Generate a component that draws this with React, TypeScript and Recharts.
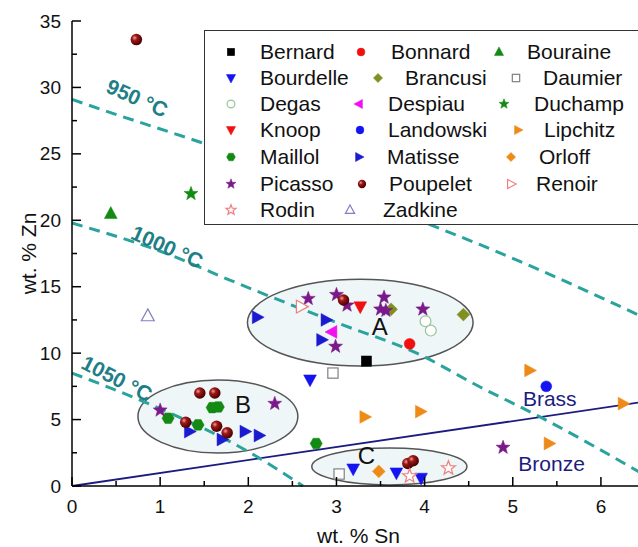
import React from 'react';
import { ComposedChart, Scatter, Line, XAxis, YAxis, ReferenceArea, ReferenceDot } from 'recharts';

// measured points, x = wt.% Sn, y = wt.% Zn
const bernard = [{ x: 3.34, y: 9.4 }];
const bonnard = [{ x: 3.83, y: 10.7 }];
const bouraine = [{ x: 0.44, y: 20.5 }];
const bourdelle = [{ x: 2.7, y: 8.0 }, { x: 3.19, y: 1.3 }, { x: 3.68, y: 1.0 }, { x: 3.96, y: 0.6 }];
const brancusi = [{ x: 3.62, y: 13.3 }, { x: 4.44, y: 12.9 }];
const daumier = [{ x: 2.96, y: 8.5 }, { x: 3.03, y: 0.9 }];
const degas = [{ x: 4.01, y: 12.4 }, { x: 4.07, y: 11.7 }];
const despiau = [{ x: 2.95, y: 11.6 }];
const duchamp = [{ x: 1.35, y: 22.0 }];
const knoop = [{ x: 3.27, y: 13.5 }];
const landowski = [{ x: 5.38, y: 7.5 }];
const lipchitz = [{ x: 3.32, y: 5.2 }, { x: 3.95, y: 5.6 }, { x: 5.19, y: 8.7 }, { x: 6.25, y: 6.2 }, { x: 5.41, y: 3.2 }];
const maillol = [{ x: 1.59, y: 5.9 }, { x: 1.66, y: 5.95 }, { x: 1.09, y: 5.1 }, { x: 1.43, y: 4.6 }, { x: 2.77, y: 3.2 }];
const matisse = [
  { x: 2.1, y: 12.7 }, { x: 2.88, y: 12.5 }, { x: 2.83, y: 11.0 },
  { x: 1.33, y: 4.1 }, { x: 1.7, y: 3.5 }, { x: 1.96, y: 4.1 }, { x: 2.12, y: 3.8 },
];
const orloff = [{ x: 3.48, y: 1.1 }];
const picasso = [
  { x: 2.68, y: 14.1 }, { x: 3.0, y: 14.4 }, { x: 3.12, y: 13.6 }, { x: 2.99, y: 10.5 },
  { x: 3.54, y: 14.2 }, { x: 3.5, y: 13.3 }, { x: 3.56, y: 13.2 }, { x: 3.98, y: 13.3 },
  { x: 1.0, y: 5.7 }, { x: 2.3, y: 6.2 }, { x: 4.89, y: 2.9 },
];
const poupelet = [
  { x: 0.73, y: 33.6 }, { x: 3.08, y: 14.0 },
  { x: 1.45, y: 7.0 }, { x: 1.62, y: 7.0 }, { x: 1.29, y: 4.8 }, { x: 1.64, y: 4.5 }, { x: 1.76, y: 4.0 },
  { x: 3.81, y: 1.7 }, { x: 3.87, y: 1.9 },
];
const renoir = [{ x: 2.6, y: 13.5 }];
const rodin = [{ x: 3.83, y: 0.75 }, { x: 4.27, y: 1.35 }];
const zadkine = [{ x: 0.86, y: 12.8 }];

// isotherms and brass/bronze divide
const iso950 = [{ x: 0, y: 29.1 }, { x: 0.35, y: 28.3 }, { x: 1.49, y: 25.8 }, { x: 5.31, y: 16.25 }, { x: 6.45, y: 12.8 }];
const iso1000 = [
  { x: 0, y: 19.8 }, { x: 1.11, y: 17.4 }, { x: 1.79, y: 15.5 }, { x: 2.5, y: 13.6 }, { x: 3.0, y: 12.3 },
  { x: 3.91, y: 10.0 }, { x: 4.63, y: 7.45 }, { x: 5.31, y: 5.2 }, { x: 6.45, y: 1.0 },
];
const iso1050 = [{ x: 0, y: 8.5 }, { x: 0.83, y: 6.3 }, { x: 2.1, y: 2.2 }, { x: 2.62, y: 0 }];
const brassBronze = [{ x: 0, y: 0 }, { x: 6.5, y: 6.35 }];

// groups A, B, C: centre and half-widths
const groups = [
  { name: 'A', cx: 3.27, cy: 12.3, rx: 1.28, ry: 3.27, lx: 3.49, ly: 12.0 },
  { name: 'B', cx: 1.655, cy: 5.23, rx: 0.907, ry: 2.75, lx: 1.94, ly: 6.1 },
  { name: 'C', cx: 3.6, cy: 1.47, rx: 0.88, ry: 1.39, lx: 3.34, ly: 2.3 },
];
const isoLabels = [
  { text: '950 °C', x: 0.74, y: 29.2, angle: 24 },
  { text: '1000 °C', x: 1.08, y: 18.0, angle: 24 },
  { text: '1050 °C', x: 0.51, y: 8.1, angle: 27 },
];
const alloyLabels = [
  { text: 'Brass', x: 5.42, y: 6.6 },
  { text: 'Bronze', x: 5.44, y: 1.7 },
];

const X_TICKS = [0, 0.5, 1, 1.5, 2, 2.5, 3, 3.5, 4, 4.5, 5, 5.5, 6, 6.5];
const Y_TICKS = [0, 2.5, 5, 7.5, 10, 12.5, 15, 17.5, 20, 22.5, 25, 27.5, 30, 32.5, 35];

type Kind = 'square' | 'circle' | 'sphere' | 'triUp' | 'triDown' | 'triLeft' | 'triRight' | 'diamond' | 'star' | 'hexagon';

const SERIES: { name: string; data: { x: number; y: number }[]; kind: Kind; color: string; open?: boolean }[] = [
  { name: 'Bernard', data: bernard, kind: 'square', color: '#000000' },
  { name: 'Bonnard', data: bonnard, kind: 'circle', color: '#f01010' },
  { name: 'Bouraine', data: bouraine, kind: 'triUp', color: '#138a13' },
  { name: 'Bourdelle', data: bourdelle, kind: 'triDown', color: '#1414f0' },
  { name: 'Brancusi', data: brancusi, kind: 'diamond', color: '#7f8f20' },
  { name: 'Daumier', data: daumier, kind: 'square', color: '#808080', open: true },
  { name: 'Degas', data: degas, kind: 'circle', color: '#99c499', open: true },
  { name: 'Despiau', data: despiau, kind: 'triLeft', color: '#f010f0' },
  { name: 'Duchamp', data: duchamp, kind: 'star', color: '#138a13' },
  { name: 'Knoop', data: knoop, kind: 'triDown', color: '#f01010' },
  { name: 'Landowski', data: landowski, kind: 'circle', color: '#1414f0' },
  { name: 'Lipchitz', data: lipchitz, kind: 'triRight', color: '#ee8a18' },
  { name: 'Maillol', data: maillol, kind: 'hexagon', color: '#138a13' },
  { name: 'Matisse', data: matisse, kind: 'triRight', color: '#1a1ad0' },
  { name: 'Orloff', data: orloff, kind: 'diamond', color: '#ee8a18' },
  { name: 'Picasso', data: picasso, kind: 'star', color: '#7a1a8a' },
  { name: 'Poupelet', data: poupelet, kind: 'sphere', color: '#800000' },
  { name: 'Renoir', data: renoir, kind: 'triRight', color: '#f08080', open: true },
  { name: 'Rodin', data: rodin, kind: 'star', color: '#f08080', open: true },
  { name: 'Zadkine', data: zadkine, kind: 'triUp', color: '#8080c0', open: true },
];

// legend entry placement: [marker x, text x], page coords
const LEGEND_X: [number, number][] = [
  [230, 260], [360, 391], [498, 527],
  [230, 260], [377, 405], [515, 543],
  [230, 260], [358, 388], [503, 534],
  [230, 260], [359, 388], [517, 544],
  [230, 260], [358, 387], [510, 539],
  [230, 260], [361, 389], [510, 536],
  [230, 260], [349, 383],
];
const LEGEND_ROWS = [51, 77, 103, 129, 156, 183, 209];

const FONT = '"Liberation Sans", Arial, sans-serif';
const TEAL = '#2aa39e';

function Marker({ kind, cx, cy, color, open, s }: { kind: Kind; cx: number; cy: number; color: string; open?: boolean; s: number }) {
  const fill = open ? '#fff' : color;
  const sw = open ? 1.2 : 0.5;
  const poly = (pts: number[][]) => (
    <polygon points={pts.map(([a, b]) => `${cx + a * s},${cy + b * s}`).join(' ')} fill={fill} stroke={color} strokeWidth={sw} />
  );
  switch (kind) {
    case 'square':
      return <rect x={cx - 0.8 * s} y={cy - 0.8 * s} width={1.6 * s} height={1.6 * s} fill={fill} stroke={color} strokeWidth={sw} />;
    case 'circle':
      return <circle cx={cx} cy={cy} r={0.85 * s} fill={fill} stroke={color} strokeWidth={sw} />;
    case 'sphere':
      return <circle cx={cx} cy={cy} r={0.9 * s} fill="url(#sphereGrad)" />;
    case 'triUp':
      return poly([[0, -1.1], [1, 0.75], [-1, 0.75]]);
    case 'triDown':
      return poly([[0, 1.1], [1, -0.75], [-1, -0.75]]);
    case 'triRight':
      return poly([[1.1, 0], [-0.75, -1], [-0.75, 1]]);
    case 'triLeft':
      return poly([[-1.1, 0], [0.75, -1], [0.75, 1]]);
    case 'diamond':
      return poly([[0, -1], [1, 0], [0, 1], [-1, 0]]);
    case 'hexagon':
      return poly([0, 1, 2, 3, 4, 5].map((i) => [0.95 * Math.cos((i * Math.PI) / 3), 0.95 * Math.sin((i * Math.PI) / 3)]));
    case 'star': {
      const pts: number[][] = [];
      for (let i = 0; i < 10; i++) {
        const r = i % 2 === 0 ? 1.15 : 0.48;
        const a = -Math.PI / 2 + (i * Math.PI) / 5;
        pts.push([r * Math.cos(a), r * Math.sin(a)]);
      }
      return poly(pts);
    }
  }
  return null;
}

const BottomTick = (p: any) => {
  const v = p.payload.value;
  const major = Number.isInteger(v);
  return (
    <g>
      <line x1={p.x} x2={p.x} y1={p.y} y2={p.y - (major ? 9 : 5)} stroke="#000" strokeWidth={1.5} />
      {major && (
        <text x={p.x} y={p.y + 20} textAnchor="middle" dominantBaseline="central" fontSize={19} fontFamily={FONT} fill="#111">
          {v}
        </text>
      )}
    </g>
  );
};
const TopTick = (p: any) => {
  const major = Number.isInteger(p.payload.value);
  return <line x1={p.x} x2={p.x} y1={p.y} y2={p.y + (major ? 9 : 5)} stroke="#000" strokeWidth={1.5} />;
};
const LeftTick = (p: any) => {
  const v = p.payload.value;
  const major = v % 5 === 0;
  return (
    <g>
      <line x1={p.x} x2={p.x + (major ? 9 : 5)} y1={p.y} y2={p.y} stroke="#000" strokeWidth={1.5} />
      {major && (
        <text x={p.x - 11} y={p.y} textAnchor="end" dominantBaseline="central" fontSize={19} fontFamily={FONT} fill="#111">
          {v}
        </text>
      )}
    </g>
  );
};
const RightTick = (p: any) => {
  const major = p.payload.value % 5 === 0;
  return <line x1={p.x} x2={p.x - (major ? 9 : 5)} y1={p.y} y2={p.y} stroke="#000" strokeWidth={1.5} />;
};

const Legend = () => (
  <div
    style={{
      position: 'absolute', left: 204, top: 30, width: 460, height: 195,
      border: '1.5px solid #333', background: '#fff', fontFamily: FONT, boxSizing: 'border-box',
    }}
  >
    {SERIES.map((s, i) => {
      const [mx, tx] = LEGEND_X[i];
      const cy = LEGEND_ROWS[Math.floor(i / 3)] - 30;
      return (
        <React.Fragment key={s.name}>
          <svg style={{ position: 'absolute', left: mx - 204 - 8, top: cy - 8 }} width={16} height={16}>
            <Marker kind={s.kind} cx={8} cy={8} color={s.color} open={s.open} s={4.6} />
          </svg>
          <span style={{ position: 'absolute', left: tx - 205, top: cy - 13, fontSize: 21, lineHeight: '26px', color: '#111', whiteSpace: 'nowrap' }}>
            {s.name}
          </span>
        </React.Fragment>
      );
    })}
  </div>
);

export default function App() {
  return (
    <div style={{ position: 'absolute', left: 0, top: 0, width: 638, height: 547, overflow: 'hidden', background: '#fff' }}>
      <svg width={0} height={0} style={{ position: 'absolute' }}>
        <defs>
          <radialGradient id="sphereGrad" cx="35%" cy="35%" r="65%">
            <stop offset="0%" stopColor="#f0a0a0" />
            <stop offset="35%" stopColor="#a01818" />
            <stop offset="100%" stopColor="#4a0000" />
          </radialGradient>
        </defs>
      </svg>
      <ComposedChart width={645} height={547} margin={{ top: 21, right: 0, bottom: 0, left: 0 }}>
        <XAxis
          dataKey="x" type="number" domain={[0, 6.5]} ticks={X_TICKS} interval={0} height={61}
          tickSize={0} tickMargin={0} tickLine={false} tick={<BottomTick />}
          axisLine={{ stroke: '#000', strokeWidth: 1.5 }}
          label={{
            content: (lp: any) => (
              <text x={lp.viewBox.x + lp.viewBox.width / 2} y={lp.viewBox.y + 49} textAnchor="middle" dominantBaseline="central" fontSize={21} fontFamily={FONT} fill="#111">
                wt. % Sn
              </text>
            ),
          }}
        />
        <XAxis
          xAxisId="top" orientation="top" dataKey="x" type="number" domain={[0, 6.5]} ticks={X_TICKS} interval={0} height={0}
          tickSize={0} tickMargin={0} tickLine={false} tick={<TopTick />} axisLine={{ stroke: '#000', strokeWidth: 1.5 }}
        />
        <YAxis
          dataKey="y" type="number" domain={[0, 35]} ticks={Y_TICKS} interval={0} width={72}
          tickSize={0} tickMargin={0} tickLine={false} tick={<LeftTick />}
          axisLine={{ stroke: '#000', strokeWidth: 1.5 }}
          label={{
            content: (lp: any) => {
              const x = lp.viewBox.x + 28;
              const y = lp.viewBox.y + lp.viewBox.height / 2;
              return (
                <text x={x} y={y} transform={`rotate(-90 ${x} ${y})`} textAnchor="middle" dominantBaseline="central" fontSize={21} fontFamily={FONT} fill="#111">
                  wt. % Zn
                </text>
              );
            },
          }}
        />
        <YAxis
          yAxisId="right" orientation="right" type="number" domain={[0, 35]} ticks={Y_TICKS} interval={0} width={0}
          tickSize={0} tickMargin={0} tickLine={false} tick={<RightTick />} axisLine={{ stroke: '#000', strokeWidth: 1.5 }}
        />

        {groups.map((g) => (
          <ReferenceArea
            key={g.name}
            x1={g.cx - g.rx} x2={g.cx + g.rx} y1={g.cy - g.ry} y2={g.cy + g.ry}
            ifOverflow="visible"
            shape={(p: any) => (
              <ellipse
                cx={p.x + p.width / 2} cy={p.y + p.height / 2} rx={Math.abs(p.width) / 2} ry={Math.abs(p.height) / 2}
                fill="#eef6f7" stroke="#555" strokeWidth={1.5}
              />
            )}
          />
        ))}

        <Line data={brassBronze} dataKey="y" type="linear" stroke="#1c1c80" strokeWidth={1.8} dot={false} activeDot={false} isAnimationActive={false} />
        {[iso950, iso1000, iso1050].map((d, i) => (
          <Line key={i} data={d} dataKey="y" type="monotone" stroke={TEAL} strokeWidth={3} strokeDasharray="11 7" dot={false} activeDot={false} isAnimationActive={false} />
        ))}

        {groups.map((g) => (
          <ReferenceDot
            key={'l' + g.name} x={g.lx} y={g.ly} r={0} ifOverflow="visible"
            shape={(p: any) => (
              <text x={p.cx} y={p.cy} textAnchor="middle" dominantBaseline="central" fontSize={24} fontFamily={FONT} fill="#111">
                {g.name}
              </text>
            )}
          />
        ))}
        {alloyLabels.map((l) => (
          <ReferenceDot
            key={l.text} x={l.x} y={l.y} r={0} ifOverflow="visible"
            shape={(p: any) => (
              <text x={p.cx} y={p.cy} textAnchor="middle" dominantBaseline="central" fontSize={21} fontFamily={FONT} fill="#1c1c80">
                {l.text}
              </text>
            )}
          />
        ))}
        {isoLabels.map((l) => (
          <ReferenceDot
            key={l.text} x={l.x} y={l.y} r={0} ifOverflow="visible"
            shape={(p: any) => (
              <text
                x={p.cx} y={p.cy} transform={`rotate(${l.angle} ${p.cx} ${p.cy})`}
                textAnchor="middle" dominantBaseline="central" fontSize={21} fontWeight="bold" fontFamily={FONT} fill="#1f7f86"
              >
                {l.text}
              </text>
            )}
          />
        ))}

        {SERIES.map((s) => (
          <Scatter
            key={s.name} name={s.name} data={s.data} isAnimationActive={false}
            shape={(p: any) => <Marker kind={s.kind} cx={p.cx} cy={p.cy} color={s.color} open={s.open} s={6.4} />}
          />
        ))}
      </ComposedChart>
      <Legend />
    </div>
  );
}
